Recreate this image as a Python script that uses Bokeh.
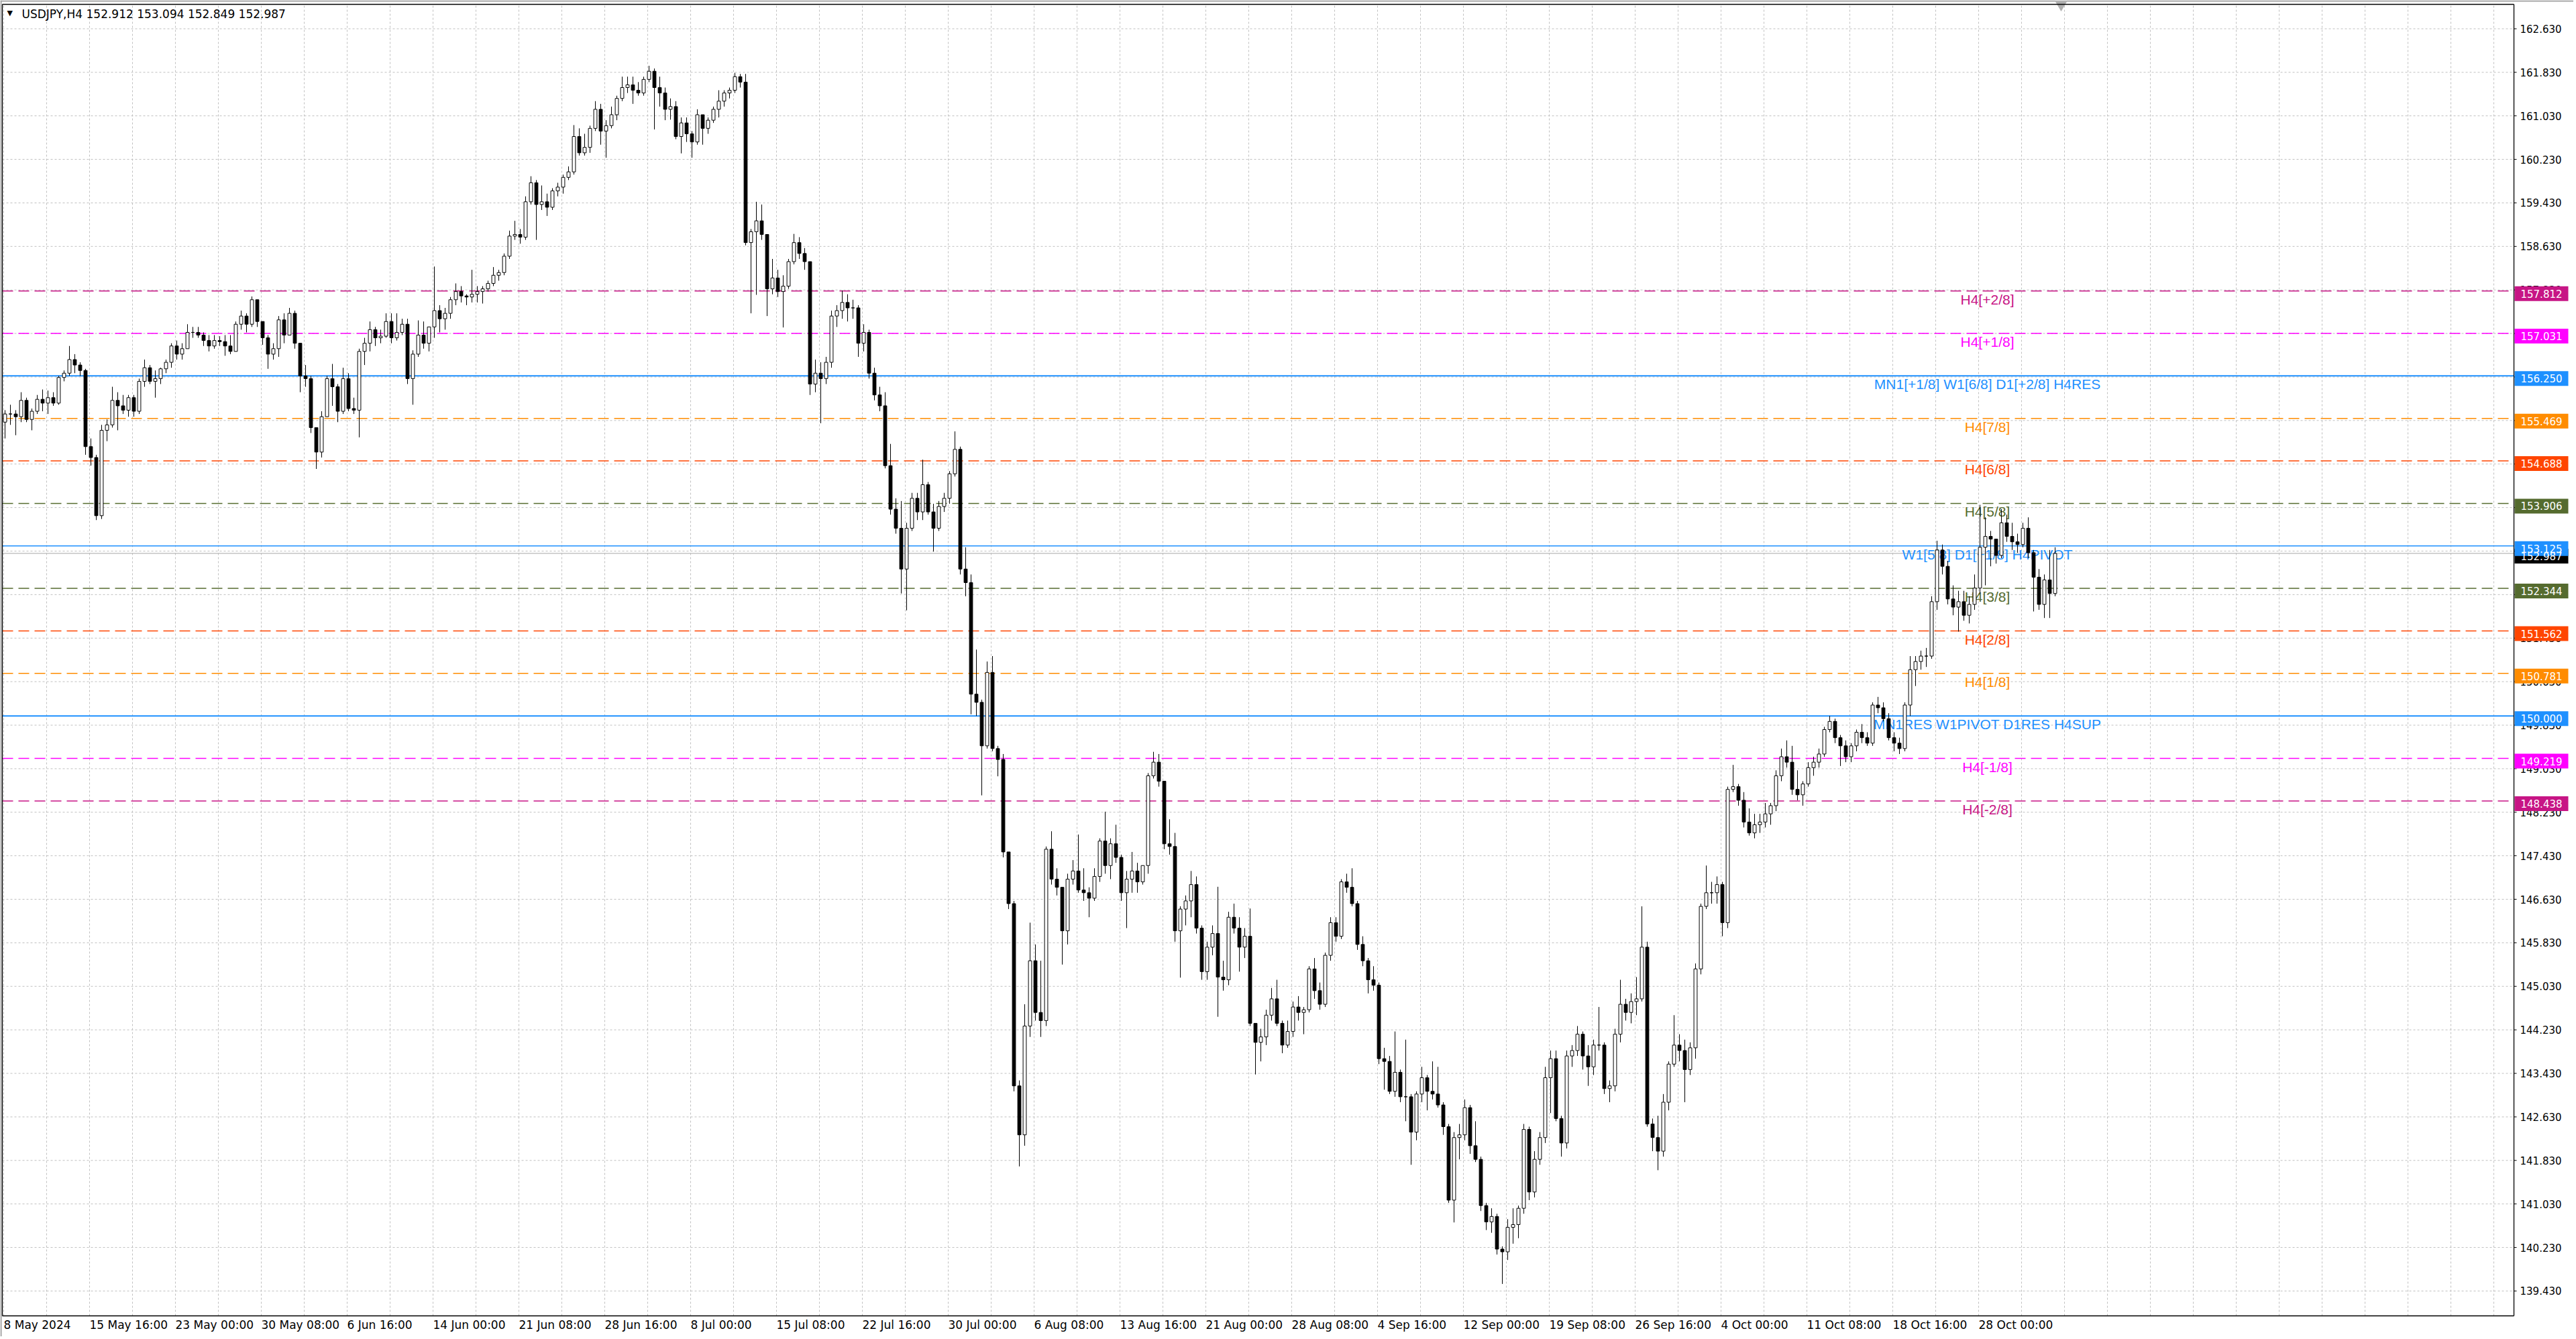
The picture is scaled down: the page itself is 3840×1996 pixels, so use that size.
import numpy as np
from bokeh.plotting import figure
from bokeh.models import ColumnDataSource, Range1d
from bokeh.core.properties import value
from bokeh.embed import file_html
from bokeh.resources import INLINE

first_open = 155.40
highs = [
    155.62, 155.72, 155.62, 155.95, 155.85, 155.65, 155.90, 156.00, 155.98, 155.95,
    156.25, 156.35, 156.80, 156.65, 156.50, 156.38, 155.10, 154.80, 155.35, 155.45,
    156.05, 155.95, 155.90, 155.90, 155.90, 156.20, 156.55, 156.45, 156.35, 156.40,
    156.55, 156.85, 156.90, 156.85, 157.20, 157.15, 157.15, 157.05, 157.00, 157.00,
    156.98, 157.00, 157.00, 157.25, 157.45, 157.40, 157.71, 157.65, 157.25, 157.00,
    156.85, 157.35, 157.40, 157.50, 157.45, 156.85, 156.45, 156.25, 155.30, 155.60,
    156.25, 156.47, 156.10, 156.40, 156.30, 155.85, 156.75, 156.95, 157.25, 157.15,
    157.10, 157.40, 157.40, 157.40, 157.30, 157.30, 156.72, 157.27, 157.25, 157.15,
    158.26, 157.55, 157.50, 157.70, 157.95, 157.90, 157.75, 158.20, 157.90, 157.90,
    158.00, 158.25, 158.20, 158.50, 158.92, 159.10, 158.95, 159.55, 159.92, 159.85,
    159.75, 159.60, 159.70, 159.80, 159.95, 160.10, 160.86, 160.80, 160.70, 160.85,
    161.30, 161.25, 160.95, 161.20, 161.40, 161.75, 161.75, 161.75, 161.65, 161.75,
    161.95, 161.90, 161.75, 161.55, 161.35, 161.30, 161.00, 161.00, 160.75, 161.15,
    161.05, 161.00, 161.20, 161.50, 161.50, 161.55, 161.82, 161.80, 161.80, 158.95,
    159.45, 159.40, 158.85, 158.40, 158.20, 158.10, 158.40, 158.86, 158.80, 158.60,
    158.35, 156.55, 156.50, 156.60, 157.45, 157.55, 157.82, 157.75, 157.65, 157.55,
    157.20, 157.10, 156.40, 156.05, 155.95, 155.00, 154.00, 153.95, 153.55, 154.10,
    154.10, 154.71, 154.30, 153.90, 153.95, 154.10, 154.50, 155.23, 154.95, 153.10,
    152.60, 151.22, 150.30, 151.00, 151.10, 149.45, 149.30, 147.50, 146.60, 143.30,
    144.70, 146.20, 145.80, 145.50, 147.60, 147.88, 147.20, 146.75, 147.10, 147.35,
    147.82, 147.20, 146.85, 147.20, 147.75, 148.24, 147.75, 148.00, 147.45, 147.15,
    147.50, 147.30, 147.25, 148.95, 149.34, 149.30, 148.80, 148.10, 147.85, 146.50,
    146.70, 147.15, 147.05, 146.15, 145.85, 146.15, 146.86, 145.50, 146.40, 146.55,
    146.30, 146.10, 146.46, 144.35, 144.25, 144.60, 145.00, 145.15, 144.40, 144.40,
    144.75, 144.85, 144.65, 145.40, 145.55, 145.10, 145.65, 146.30, 146.30, 147.00,
    147.10, 147.20, 146.60, 145.95, 145.55, 145.40, 145.10, 143.90, 143.75, 144.20,
    143.50, 144.05, 143.05, 143.10, 143.55, 143.40, 143.65, 143.55, 142.90, 142.50,
    142.35, 142.50, 142.95, 142.85, 142.55, 141.90, 141.05, 140.95, 140.85, 140.25,
    140.75, 140.95, 141.00, 142.50, 142.45, 142.00, 142.35, 143.55, 143.85, 143.85,
    142.65, 143.85, 143.95, 144.30, 144.20, 143.95, 144.05, 144.65, 144.00, 143.30,
    144.25, 145.15, 144.80, 144.90, 145.20, 146.50, 145.85, 142.60, 142.65, 143.05,
    143.65, 144.50, 144.15, 144.05, 144.00, 145.45, 146.55, 147.25, 146.95, 147.05,
    146.95, 148.70, 149.10, 148.75, 148.60, 148.30, 148.20, 148.20, 148.40, 148.40,
    149.00, 149.40, 149.55, 149.45, 149.00, 148.80, 149.15, 149.25, 149.40, 149.80,
    150.00, 149.95, 149.65, 149.55, 149.50, 149.75, 149.85, 149.70, 150.25, 150.35,
    150.25, 150.05, 149.70, 149.60, 150.25, 151.10, 151.10, 151.20, 151.25, 152.20,
    153.22, 153.15, 152.85, 152.40, 152.30, 152.30, 152.20, 152.60, 153.88, 153.65,
    153.40, 153.25, 153.80, 153.70, 153.55, 153.35, 153.55, 153.65, 153.05, 152.70,
    152.60, 153.05, 153.10,
]
lows = [
    155.10, 155.35, 155.16, 155.40, 155.40, 155.25, 155.55, 155.60, 155.55, 155.70,
    155.72, 156.15, 156.25, 156.30, 156.25, 154.80, 154.60, 153.60, 153.62, 155.05,
    155.30, 155.25, 155.55, 155.50, 155.50, 155.55, 156.05, 156.10, 155.85, 156.10,
    156.30, 156.40, 156.55, 156.55, 156.75, 156.95, 156.95, 156.80, 156.70, 156.75,
    156.80, 156.62, 156.65, 156.70, 157.10, 157.05, 157.15, 157.15, 156.82, 156.38,
    156.55, 156.60, 156.85, 157.05, 156.75, 155.95, 156.05, 155.20, 154.54, 154.75,
    155.50, 155.70, 155.40, 155.55, 155.60, 155.55, 155.12, 156.45, 156.70, 156.80,
    156.85, 156.95, 156.85, 156.90, 157.00, 156.10, 155.72, 156.60, 156.75, 156.70,
    156.95, 157.05, 157.10, 157.30, 157.55, 157.60, 157.55, 157.60, 157.60, 157.58,
    157.80, 157.90, 158.00, 158.10, 158.40, 158.75, 158.68, 158.75, 159.40, 158.75,
    159.30, 159.19, 159.30, 159.55, 159.60, 159.85, 159.95, 160.30, 160.30, 160.35,
    160.75, 160.50, 160.26, 160.80, 160.95, 161.30, 161.45, 161.25, 161.40, 161.40,
    161.65, 160.78, 161.20, 160.95, 160.96, 160.60, 160.34, 160.55, 160.26, 160.50,
    160.50, 160.70, 160.90, 161.00, 161.20, 161.35, 161.45, 161.55, 158.65, 157.40,
    157.74, 158.75, 157.35, 157.75, 157.70, 157.14, 157.85, 158.30, 158.40, 158.20,
    155.90, 155.95, 155.38, 156.10, 156.40, 157.15, 157.30, 157.25, 157.30, 156.60,
    156.70, 156.20, 155.80, 155.60, 154.55, 153.70, 153.35, 152.25, 151.94, 153.40,
    153.60, 153.60, 153.70, 153.02, 153.40, 153.75, 153.90, 154.40, 152.60, 152.20,
    150.03, 150.00, 148.54, 149.40, 149.35, 148.89, 147.40, 146.45, 143.10, 141.72,
    142.10, 144.10, 144.40, 144.10, 144.30, 146.90, 146.70, 145.43, 145.80, 146.90,
    146.75, 146.60, 146.30, 146.60, 146.95, 147.10, 147.00, 147.30, 146.60, 146.10,
    146.75, 146.75, 146.90, 147.10, 148.85, 148.70, 147.55, 147.45, 145.85, 145.19,
    146.15, 146.30, 146.00, 145.15, 145.15, 145.60, 144.47, 144.95, 145.05, 146.00,
    145.30, 145.55, 144.30, 143.41, 143.65, 143.95, 144.40, 144.30, 143.80, 143.90,
    144.10, 144.40, 144.15, 144.55, 144.80, 144.60, 144.65, 145.50, 145.85, 145.90,
    146.75, 146.50, 145.70, 145.40, 144.90, 144.95, 143.60, 143.13, 143.05, 143.00,
    142.90, 142.55, 141.75, 142.20, 142.90, 142.75, 142.95, 142.80, 142.30, 141.05,
    140.69, 141.85, 142.20, 141.95, 141.80, 140.90, 140.55, 140.50, 140.10, 139.56,
    140.00, 140.30, 140.40, 140.85, 141.10, 141.15, 141.75, 142.15, 142.70, 142.55,
    141.90, 142.05, 143.55, 143.75, 143.50, 143.20, 143.40, 143.85, 143.05, 142.90,
    143.10, 144.00, 144.40, 144.35, 144.50, 144.75, 142.45, 142.00, 141.65, 141.90,
    142.75, 143.55, 143.65, 142.90, 143.40, 143.70, 145.25, 146.45, 146.55, 146.55,
    145.95, 146.10, 148.60, 148.35, 147.95, 147.80, 147.75, 147.85, 147.95, 148.00,
    148.25, 148.80, 149.05, 148.55, 148.45, 148.35, 148.70, 148.90, 149.05, 149.25,
    149.70, 149.50, 149.08, 149.15, 149.15, 149.35, 149.50, 149.45, 149.45, 150.05,
    149.90, 149.55, 149.35, 149.30, 149.35, 150.00, 150.55, 150.85, 150.90, 151.05,
    151.95, 152.60, 152.05, 151.85, 151.55, 151.75, 151.70, 151.95, 152.25, 152.40,
    152.75, 152.80, 152.90, 153.20, 153.05, 153.00, 153.10, 152.90, 151.92, 151.95,
    151.80, 151.80, 152.20,
]
closes = [
    155.55, 155.55, 155.50, 155.80, 155.45, 155.60, 155.82, 155.75, 155.85, 155.75,
    156.22, 156.30, 156.55, 156.45, 156.35, 154.95, 154.75, 153.68, 155.25, 155.35,
    155.80, 155.70, 155.62, 155.85, 155.60, 156.15, 156.40, 156.15, 156.20, 156.38,
    156.50, 156.80, 156.65, 156.75, 157.05, 157.05, 157.00, 156.90, 156.80, 156.90,
    156.88, 156.80, 156.70, 157.20, 157.35, 157.20, 157.65, 157.25, 156.95, 156.65,
    156.75, 157.28, 157.00, 157.40, 156.85, 156.25, 156.20, 155.30, 154.85, 155.50,
    156.20, 156.05, 155.60, 156.20, 155.65, 155.62, 156.70, 156.85, 157.10, 156.95,
    156.98, 157.25, 156.95, 157.05, 157.20, 156.20, 156.65, 157.00, 156.85, 157.15,
    157.45, 157.30, 157.40, 157.65, 157.80, 157.72, 157.70, 157.75, 157.80, 157.85,
    157.95, 158.10, 158.15, 158.45, 158.82, 158.85, 158.80, 159.45, 159.80, 159.40,
    159.45, 159.35, 159.65, 159.72, 159.90, 160.00, 160.65, 160.35, 160.45, 160.80,
    161.15, 160.75, 160.85, 161.05, 161.35, 161.55, 161.60, 161.50, 161.45, 161.70,
    161.85, 161.55, 161.45, 161.15, 161.20, 160.65, 160.90, 160.70, 160.55, 161.05,
    160.80, 160.95, 161.15, 161.30, 161.45, 161.50, 161.75, 161.65, 158.70, 158.90,
    159.10, 158.85, 157.85, 158.05, 157.80, 157.90, 158.35, 158.70, 158.50, 158.35,
    156.10, 156.30, 156.20, 156.50, 157.35, 157.45, 157.60, 157.50, 157.50, 156.85,
    157.05, 156.30, 155.90, 155.70, 154.60, 153.80, 153.45, 152.70, 153.45, 154.00,
    153.75, 154.25, 153.75, 153.45, 153.85, 154.00, 154.45, 154.90, 152.70, 152.45,
    150.40, 150.25, 149.45, 150.80, 149.40, 149.20, 147.50, 146.55, 143.20, 142.30,
    144.30, 145.50, 144.55, 144.40, 147.55, 147.00, 146.85, 146.05, 147.00, 147.15,
    146.80, 146.75, 146.65, 147.05, 147.70, 147.25, 147.65, 147.40, 146.75, 147.00,
    147.15, 146.95, 147.25, 148.90, 149.15, 148.80, 147.65, 147.60, 146.05, 146.45,
    146.60, 146.90, 146.10, 145.30, 145.75, 146.00, 145.20, 145.15, 146.30, 146.10,
    145.75, 145.95, 144.35, 144.00, 144.10, 144.50, 144.80, 144.35, 143.95, 144.20,
    144.65, 144.55, 144.60, 145.35, 144.95, 144.70, 145.60, 146.20, 145.95, 146.95,
    146.85, 146.55, 145.80, 145.50, 145.15, 145.05, 143.70, 143.65, 143.10, 143.45,
    143.00, 143.00, 142.35, 143.05, 143.35, 143.10, 143.05, 142.85, 142.45, 141.10,
    142.25, 142.30, 142.80, 142.10, 141.85, 141.00, 140.70, 140.80, 140.20, 140.15,
    140.60, 140.65, 140.95, 142.40, 141.25, 141.85, 142.25, 143.35, 143.70, 142.60,
    142.15, 143.75, 143.85, 144.15, 143.75, 143.55, 143.95, 143.95, 143.15, 143.20,
    144.15, 144.70, 144.55, 144.75, 144.80, 145.75, 142.50, 142.25, 142.00, 142.90,
    143.60, 143.95, 143.85, 143.50, 143.90, 145.35, 146.50, 146.75, 146.75, 146.90,
    146.20, 148.65, 148.70, 148.45, 148.05, 147.85, 148.00, 148.05, 148.20, 148.35,
    148.90, 149.25, 149.15, 148.65, 148.55, 148.75, 149.05, 149.15, 149.30, 149.75,
    149.90, 149.60, 149.45, 149.25, 149.45, 149.70, 149.60, 149.50, 150.20, 150.15,
    149.95, 149.60, 149.50, 149.40, 150.20, 150.85, 151.00, 151.10, 151.10, 152.10,
    153.05, 152.75, 152.15, 152.00, 152.10, 151.85, 152.05, 152.35, 153.10, 153.30,
    153.25, 152.95, 153.55, 153.30, 153.20, 153.15, 153.45, 153.00, 152.55, 152.05,
    152.50, 152.25, 152.987,
]

# time axis labels, one every 32 H4 bars
date_labels = [
    "8 May 2024", "15 May 16:00", "23 May 00:00", "30 May 08:00", "6 Jun 16:00",
    "14 Jun 00:00", "21 Jun 08:00", "28 Jun 16:00", "8 Jul 00:00", "15 Jul 08:00",
    "22 Jul 16:00", "30 Jul 00:00", "6 Aug 08:00", "13 Aug 16:00", "21 Aug 00:00",
    "28 Aug 08:00", "4 Sep 16:00", "12 Sep 00:00", "19 Sep 08:00", "26 Sep 16:00",
    "4 Oct 00:00", "11 Oct 08:00", "18 Oct 16:00", "28 Oct 00:00",
]
price_ticks = [
    139.43, 140.23, 141.03, 141.83, 142.63, 143.43, 144.23, 145.03, 145.83, 146.63,
    147.43, 148.23, 149.03, 149.83, 150.63, 151.43, 152.23, 153.03, 153.83, 154.63,
    155.43, 156.23, 157.03, 157.83, 158.63, 159.43, 160.23, 161.03, 161.83, 162.63,
]

# Murrey levels drawn by the indicator
level_values = [157.812, 157.031, 156.250, 155.469, 154.688, 153.906, 153.125,
                152.344, 151.562, 150.781, 150.000, 149.219, 148.438]
level_names = ["H4[+2/8]", "H4[+1/8]", "MN1[+1/8] W1[6/8] D1[+2/8] H4RES", "H4[7/8]",
               "H4[6/8]", "H4[5/8]", "W1[5/8] D1[+1/8] H4PIVOT", "H4[3/8]", "H4[2/8]",
               "H4[1/8]", "MN1RES W1PIVOT D1RES H4SUP", "H4[-1/8]", "H4[-2/8]"]
level_colors = ["#C71585", "#FF00FF", "#1E90FF", "#FF8C00", "#FF4500", "#556B2F", "#1E90FF",
                "#556B2F", "#FF4500", "#FF8C00", "#1E90FF", "#FF00FF", "#C71585"]
last_price = 152.987
title_text = "USDJPY,H4  152.912 153.094 152.849 152.987"

closes = np.array(closes)
opens = np.concatenate([[first_open], closes[:-1]])
highs = np.maximum(np.array(highs), np.maximum(opens, closes))
lows = np.minimum(np.array(lows), np.minimum(opens, closes))
xs = np.arange(len(closes)) * 2 + 0.5  # position in H4 bar units

src = ColumnDataSource(dict(
    x=xs, h=highs, l=lows,
    top=np.maximum(opens, closes), bottom=np.minimum(opens, closes),
    fill=["white" if c >= o else "black" for o, c in zip(opens, closes)],
))

W, H = 3836, 1992
PPU = 81.1                 # pixels per price unit
XA = -1.25                 # left canvas edge in bar units (4 px per bar)
XB = XA + W / 4
YB = 163.153               # top canvas edge in price
YA = YB - H / PPU
BL, BX = -0.5, 935.5       # left / right edge of the price pane
BY, BT = 138.973, 163.079  # bottom / top edge of the price pane
px = 0.25                  # one pixel in bar units

p = figure(width=W, height=H, output_backend="svg", toolbar_location=None,
           x_range=Range1d(XA, XB), y_range=Range1d(YA, YB),
           x_axis_location=None, y_axis_location=None, min_border=0)
p.background_fill_color = "white"
p.border_fill_color = "white"
p.outline_line_color = None
p.grid.visible = False

# window edge
p.segment(x0=[XA, XA + px], y0=[YB - 1 / PPU, YA], x1=[XB, XA + px], y1=[YB - 1 / PPU, YB],
          line_color="#A0A0A0", line_width=2)

# grid
grid_x = list(range(0, int(BX), 16))
p.segment(x0=grid_x, y0=BY, x1=grid_x, y1=BT, line_color="#C0C0C0", line_dash="3 3")
p.segment(x0=BL, y0=price_ticks, x1=BX, y1=price_ticks, line_color="#C0C0C0", line_dash="3 3")

# level lines
for v, c in zip(level_values, level_colors):
    if c == "#1E90FF":
        p.segment(x0=BL, y0=v, x1=BX, y1=v, line_color=c, line_width=1.3 if v == 153.125 else 2)
    else:
        p.segment(x0=BL, y0=v, x1=BX, y1=v, line_color=c, line_width=1.5, line_dash="16 8")
p.segment(x0=BL, y0=last_price, x1=BX, y1=last_price, line_color="#B8B8B8", line_width=1.2)

lvl_src = ColumnDataSource(dict(x=[739.25] * len(level_values), y=level_values,
                                text=level_names, color=level_colors))
p.text(x="x", y="y", text="text", text_color="color", source=lvl_src,
       text_align="center", text_baseline="top", y_offset=1,
       text_font=value("Liberation Sans"), text_font_size="21px")

# candles
p.segment(x0="x", y0="l", x1="x", y1="h", source=src, line_color="black", line_width=1)
p.vbar(x="x", width=1.2, top="top", bottom="bottom", source=src,
       fill_color="fill", line_color="black", line_width=1)

# chart-shift marker at the end of the data
p.scatter(x=[2 * len(closes) + 0.75], y=[BT], marker="inverted_triangle", size=17,
          fill_color="#B0B0B0", line_color="#B0B0B0")

# pane border
p.segment(x0=[BL, BX, BL, BL], y0=[BY, BY, BY, BT],
          x1=[BL, BX, BX, BX], y1=[BT, BT, BY, BT],
          line_color="black", line_width=1.3)

# price scale
p.segment(x0=BX, y0=price_ticks, x1=BX + 4 * px, y1=price_ticks, line_color="black")
p.text(x=BX + 9 * px, y=price_ticks, text=[f"{t:.3f}" for t in price_ticks],
       text_align="left", text_baseline="middle", text_color="black",
       text_font=value("DejaVu Sans"), text_font_size="15px")

# time scale
p.text(x=[32 * n for n in range(len(date_labels))], y=BY, text=date_labels,
       text_align="left", text_baseline="top", y_offset=4, text_color="black",
       text_font=value("DejaVu Sans"), text_font_size="17px")

# coloured price boxes on the scale
box_vals = [last_price] + level_values
box_cols = ["black"] + level_colors
box_src = ColumnDataSource(dict(
    x=[BX + 41 * px] * len(box_vals),
    y=[v - 4 / PPU for v in box_vals],
    text=[f"{v:.3f}" for v in box_vals],
    color=box_cols,
))
p.rect(x="x", y="y", width=80, height=22, width_units="screen", height_units="screen",
       fill_color="color", line_color=None, source=box_src)
p.text(x="x", y="y", text="text", source=box_src, text_color="white",
       text_align="center", text_baseline="middle",
       text_font=value("DejaVu Sans"), text_font_size="15px")

# header
p.text(x=[XA], y=[YB], text=["\u25bc"], x_offset=10, y_offset=12, text_baseline="top",
       text_color="black", text_font=value("DejaVu Sans"), text_font_size="11px")
p.text(x=[XA], y=[YB], text=[title_text], x_offset=32, y_offset=10, text_baseline="top",
       text_color="black", text_font=value("DejaVu Sans"), text_font_size="17px")

open("out.html", "w").write(file_html(p, INLINE))
